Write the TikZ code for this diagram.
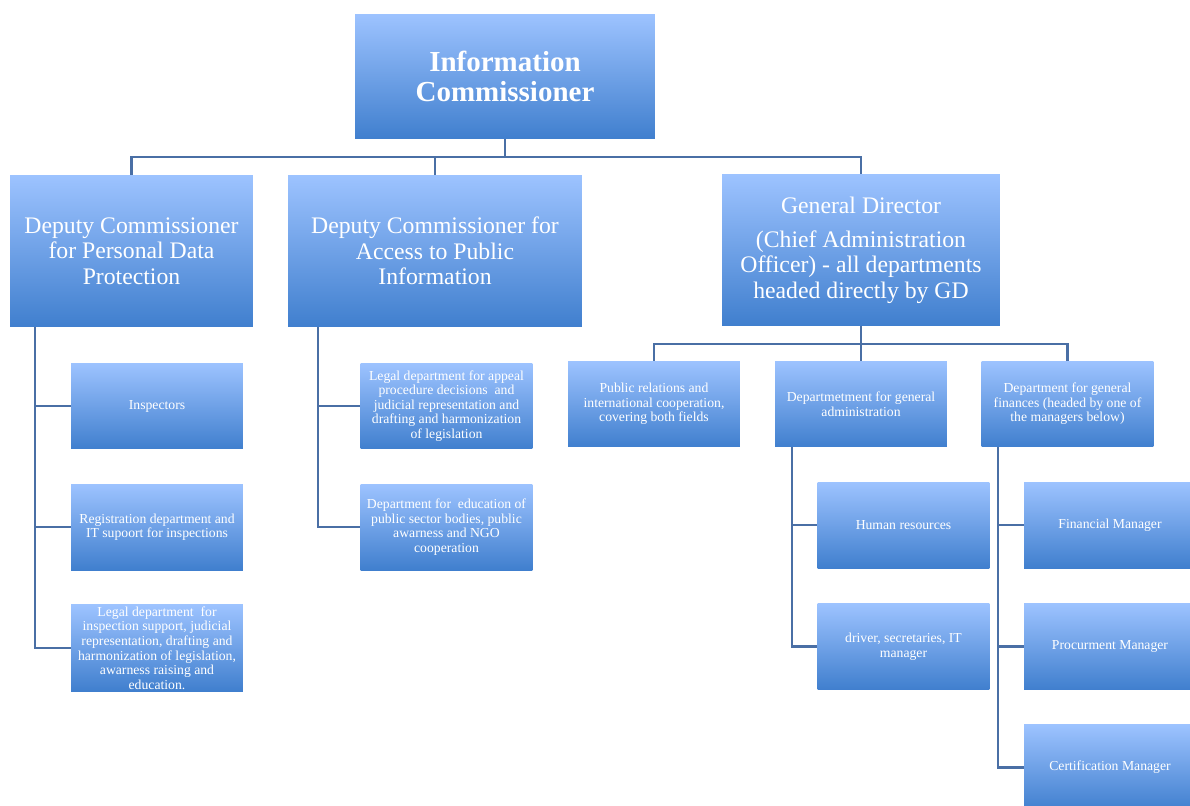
\documentclass[tikz,border=0pt]{standalone}
\usepackage{fontspec}
\setmainfont{Liberation Serif}
\usepackage{tikz}
\usetikzlibrary{calc}

\definecolor{boxtop}{RGB}{157,195,255}
\definecolor{boxbot}{RGB}{64,127,206}
\definecolor{linecol}{RGB}{74,111,165}

\begin{document}
\begin{tikzpicture}[x = 0.02cm, y = -0.02cm,
  box/.style = {top color=boxtop, bottom color=boxbot, text=white, align=center, inner sep=1pt},
  bigbox/.style = {box, font=\fontsize{13.5pt}{14.5pt}\selectfont},
  smallbox/.style = {box, minimum width=3.44cm, minimum height=1.72cm, font=\fontsize{7.8pt}{8.3pt}\selectfont},
  conn/.style = {draw=linecol, line width=1.2pt}]

\useasboundingbox (0, 0) rectangle (1190, 805);

% top level
\node[box, minimum width=6cm, minimum height=2.5cm, font=\bfseries\fontsize{16.5pt}{17.5pt}\selectfont] (ic) at (505, 76.5) {Information\\Commissioner};

\node[bigbox, minimum width=4.86cm, minimum height=3.04cm] (dcpdp) at (131.5, 251) {Deputy Commissioner\\for Personal Data\\Protection};
\node[bigbox, minimum width=5.88cm, minimum height=3.04cm] (dcapi) at (435, 251) {Deputy Commissioner for\\Access to Public\\Information};
\node[bigbox, minimum width=5.56cm, minimum height=3.02cm] (gd) at (861, 250) {General Director\\[5pt](Chief Administration\\Officer) - all departments\\headed directly by GD};

% personal data protection
\node[smallbox] (insp) at (157, 406) {Inspectors};
\node[smallbox] (regit) at (157, 527) {Registration department and\\IT supoort for inspections};
\node[smallbox] (legalpdp) at (157, 648) {Legal department \ for\\inspection support, judicial\\representation, drafting and\\harmonization of legislation,\\awarness raising and\\education.};

% access to public information
\node[smallbox] (legalapi) at (446.5, 406) {Legal department for appeal\\procedure decisions \ and\\judicial representation and\\drafting and harmonization\\of legislation};
\node[smallbox] (edu) at (446.5, 527) {Department for \ education of\\public sector bodies, public\\awarness and NGO\\cooperation};

% general director
\node[smallbox] (pr) at (654, 404) {Public relations and\\international cooperation,\\covering both fields};
\node[smallbox] (admin) at (861, 404) {Departmetment for general\\administration};
\node[smallbox] (fin) at (1067.5, 404) {Department for general\\finances (headed by one of\\the managers below)};

\node[smallbox] (hr) at (903.5, 525) {Human resources};
\node[smallbox] (driver) at (903.5, 646.5) {driver, secretaries, IT\\manager};

\node[smallbox] (finman) at (1110, 525) {Financial Manager};
\node[smallbox] (procman) at (1110, 646.5) {Procurment Manager};
\node[smallbox] (certman) at (1110, 767.5) {Certification Manager};

% connectors
\draw[conn] (ic.south) -- ++(0, 18) -| (dcpdp.north);
\draw[conn] (ic.south) -- ++(0, 18) -| (dcapi.north);
\draw[conn] (ic.south) -- ++(0, 18) -| (gd.north);

\draw[conn] ($(dcpdp.south west)+(25, 0)$) |- (insp.west);
\draw[conn] ($(dcpdp.south west)+(25, 0)$) |- (regit.west);
\draw[conn] ($(dcpdp.south west)+(25, 0)$) |- (legalpdp.west);

\draw[conn] ($(dcapi.south west)+(30, 0)$) |- (legalapi.west);
\draw[conn] ($(dcapi.south west)+(30, 0)$) |- (edu.west);

\draw[conn] (gd.south) -- ++(0, 18) -| (pr.north);
\draw[conn] (gd.south) -- ++(0, 18) -| (admin.north);
\draw[conn] (gd.south) -- ++(0, 18) -| (fin.north);

\draw[conn] ($(admin.south west)+(17, 0)$) |- (hr.west);
\draw[conn] ($(admin.south west)+(17, 0)$) |- (driver.west);

\draw[conn] ($(fin.south west)+(17, 0)$) |- (finman.west);
\draw[conn] ($(fin.south west)+(17, 0)$) |- (procman.west);
\draw[conn] ($(fin.south west)+(17, 0)$) |- (certman.west);

\end{tikzpicture}
\end{document}
